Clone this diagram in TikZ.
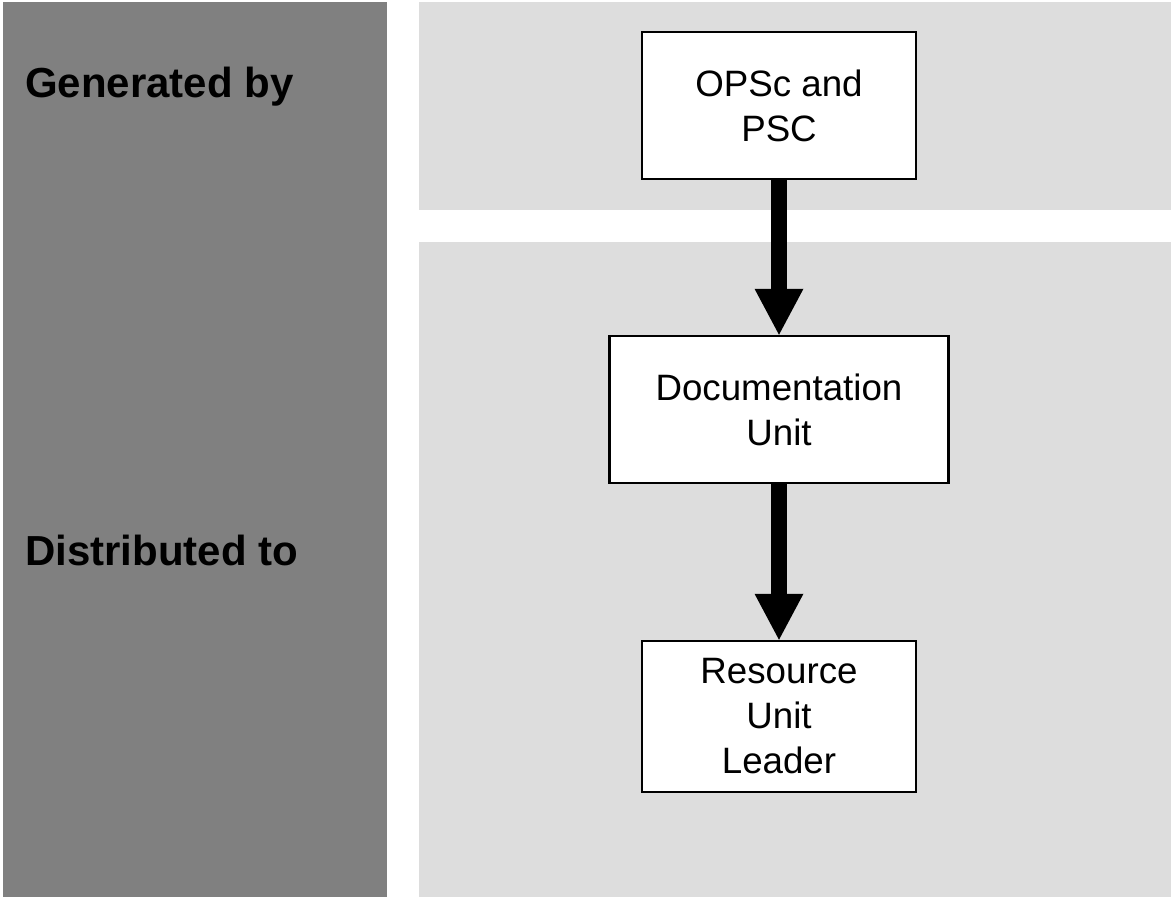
\documentclass[tikz,border=0pt]{standalone}
\usepackage{fontspec}
\setmainfont{Liberation Sans}
\usetikzlibrary{arrows.meta}
\definecolor{darkpanel}{HTML}{808080}
\definecolor{lightpanel}{HTML}{DDDDDD}
\begin{document}
\begin{tikzpicture}[x=1pt,y=-1pt,
  boxnode/.style={draw=black, line width=2.5pt, fill=white, inner sep=0pt, align=center,
    font=\fontsize{36.7}{45}\selectfont},
  rowlabel/.style={anchor=base west, inner sep=0pt, font=\fontsize{42}{50}\selectfont\bfseries},
  flowarrow/.style={line width=16pt, line cap=butt,
    -{Triangle[width=49pt,length=46pt,line width=0pt]}}]
\useasboundingbox (0,0) rectangle (1171,897);
\fill[white] (0,0) rectangle (1171,897);
\fill[darkpanel] (3,2) rectangle (387,897);
\fill[lightpanel] (419,2) rectangle (1171,210);
\fill[lightpanel] (419,242) rectangle (1171,897);
\node[rowlabel] (gen) at (25,97) {Generated by};
\node[rowlabel] (dist) at (25,565) {Distributed to};
\node[boxnode, minimum width=274pt, minimum height=147pt] (b1) at (779,105.5) {OPSc and\\PSC};
\node[boxnode, minimum width=339pt, minimum height=147pt] (b2) at (779,409.5) {Documentation\\Unit};
\node[boxnode, minimum width=274pt, minimum height=151pt] (b3) at (779,716.5) {Resource\\Unit\\Leader};
\draw[flowarrow] (b1.south) -- (b2.north);
\draw[flowarrow] (b2.south) -- (b3.north);
\end{tikzpicture}
\end{document}
